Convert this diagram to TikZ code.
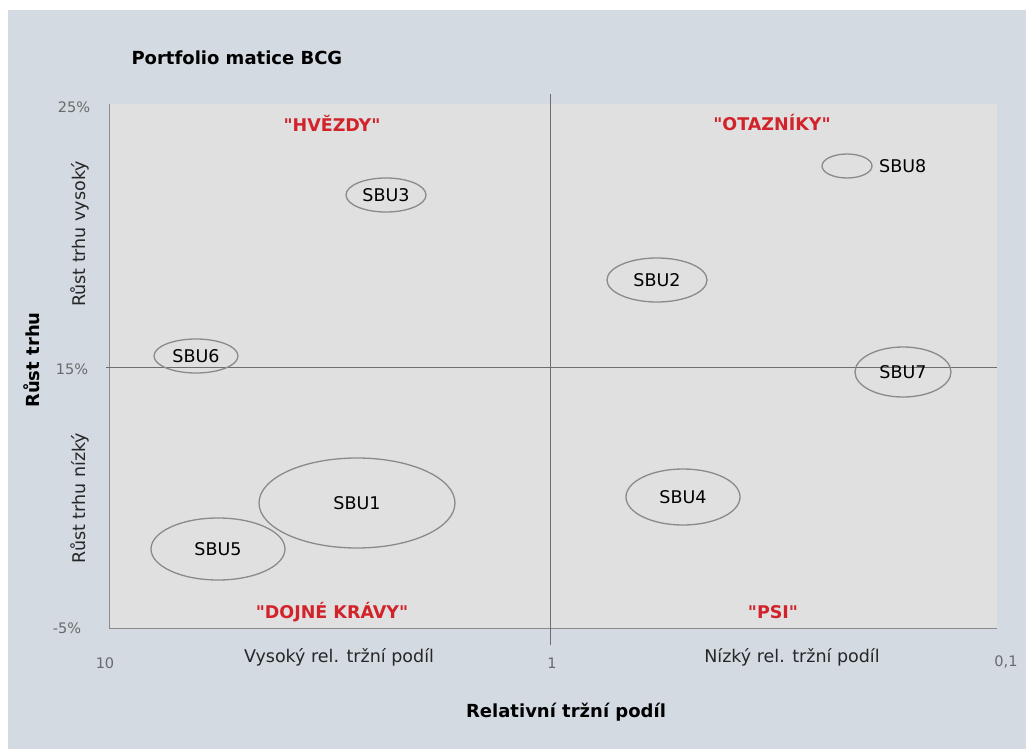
\documentclass[tikz,border=0pt]{standalone}
\usepackage{fontspec}
\setmainfont{DejaVu Sans}[Ligatures=TeXOff]
\usepackage{tikz}
\usetikzlibrary{positioning, shapes.geometric}

\definecolor{pagebg}{HTML}{D3DAE2}
\definecolor{plotbg}{HTML}{E0E0E0}
\definecolor{quadred}{HTML}{D2232A}
\definecolor{linegray}{HTML}{6E6E6E}
\definecolor{bubblegray}{HTML}{8A8A8A}
\definecolor{tickgray}{HTML}{6A6A6A}

\tikzset{
  bubble/.style={ellipse, draw=bubblegray, line width=1.3pt, inner sep=0pt, font=\fontsize{17.5}{19}\selectfont},
  quadlabel/.style={text=quadred, font=\bfseries\fontsize{17.5}{19}\selectfont},
  ticklabel/.style={text=tickgray, font=\fontsize{14.5}{16}\selectfont},
  axislabel/.style={text=black!85, font=\fontsize{17.5}{19}\selectfont},
  axistitle/.style={font=\bfseries\fontsize{18}{20}\selectfont}
}

\begin{document}
\begin{tikzpicture}[x=1pt, y=-1pt]
  \useasboundingbox (0,0) rectangle (1026,749);
  % Background of the chart
  \fill[white] (0,0) rectangle (1026,749);
  \fill[pagebg] (8,10) rectangle (1026,749);
  \fill[plotbg] (109,104) rectangle (997,628);
  \draw[bubblegray, line width=1pt] (109,104) -- (109,628) -- (997,628);

  % Quadrant dividers
  \coordinate (vtop) at (550,94);
  \coordinate (vbot) at (550,645);
  \coordinate (hleft) at (106,367);
  \coordinate (hright) at (997,367);
  \draw[linegray, line width=1pt] (vtop) -- (vbot);
  \draw[linegray, line width=1pt] (hleft) -- (hright);

  % Title
  \node (title) [anchor=west, font=\bfseries\fontsize{18}{20}\selectfont] at (128,58) {Portfolio matice BCG};

  % Quadrant names
  \node (stars) [quadlabel] at (332,123) {"HVĚZDY"};
  \node (quest) [quadlabel] at (772,123) {"OTAZNÍKY"};
  \node (cows) [quadlabel] at (332,612) {"DOJNÉ KRÁVY"};
  \node (dogs) [quadlabel] at (773,612) {"PSI"};

  % Vertical axis
  \node (y25) [ticklabel] at (74,107) {25\%};
  \node (y15) [ticklabel] at (72,369) {15\%};
  \node (y5) [ticklabel] at (67,628) {-5\%};
  \node (yhigh) [axislabel, rotate=90] at (80,234) {Růst trhu vysoký};
  \node (ylow) [axislabel, rotate=90] at (80,498) {Růst trhu nízký};
  \node (ytitle) [axistitle, rotate=90] at (32,360) {Růst trhu};

  % Horizontal axis
  \node (x10) [ticklabel] at (105,663) {10};
  \node (x1) [ticklabel] at (552,663) {1};
  \node (x01) [ticklabel] at (1006,662) {0,1};
  \node (xhigh) [axislabel] at (339,657) {Vysoký rel. tržní podíl};
  \node (xlow) [axislabel] at (792,657) {Nízký rel. tržní podíl};
  \node (xtitle) [axistitle] at (566,712) {Relativní tržní podíl};

  % Business units
  \node (sbu1) [bubble, minimum width=196pt, minimum height=90pt] at (357,503) {SBU1};
  \node (sbu2) [bubble, minimum width=100pt, minimum height=44pt] at (657,280) {SBU2};
  \node (sbu3) [bubble, minimum width=80pt, minimum height=34pt] at (386,195) {SBU3};
  \node (sbu4) [bubble, minimum width=114pt, minimum height=56pt] at (683,497) {SBU4};
  \node (sbu5) [bubble, minimum width=134pt, minimum height=62pt] at (218,549) {SBU5};
  \node (sbu6) [bubble, minimum width=84pt, minimum height=34pt] at (196,356) {SBU6};
  \node (sbu7) [bubble, minimum width=96pt, minimum height=50pt] at (903,372) {SBU7};
  \node (sbu8) [bubble, minimum width=50pt, minimum height=24pt] at (847,166) {};
  \node (sbu8lab) [right=3pt of sbu8, font=\fontsize{17.5}{19}\selectfont] {SBU8};
\end{tikzpicture}
\end{document}
